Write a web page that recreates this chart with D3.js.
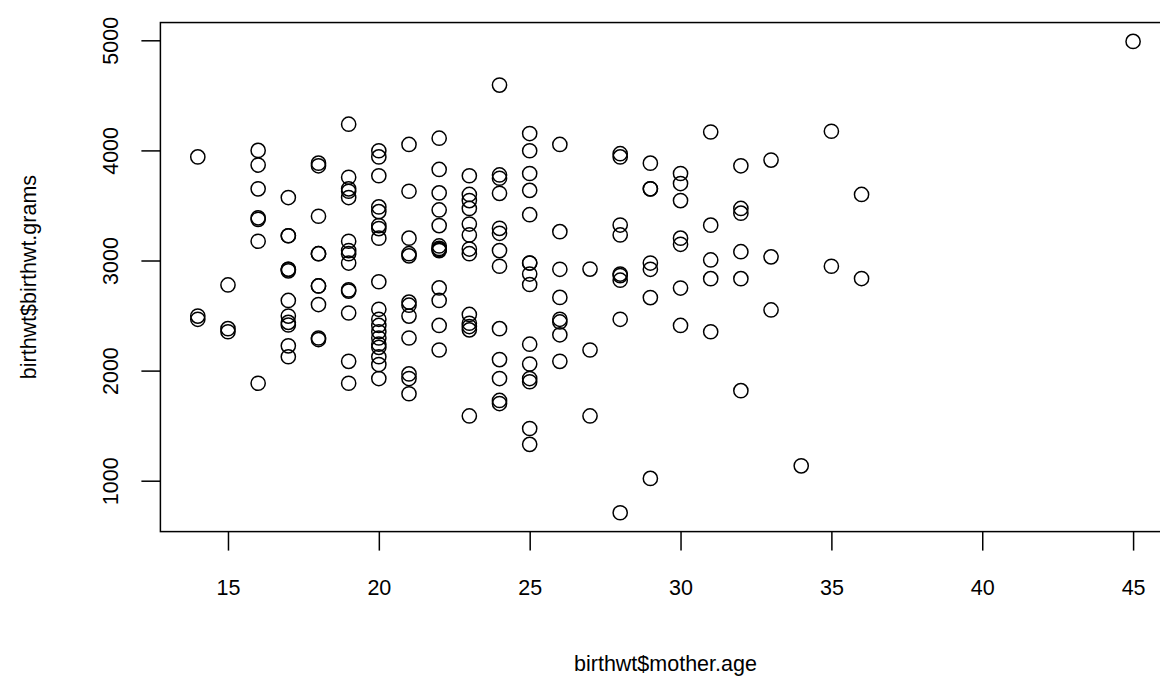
<!DOCTYPE html>
<html>
<head>
<meta charset="utf-8">
<script src="https://cdn.jsdelivr.net/npm/d3@7"></script>
<style>
  html, body { margin: 0; padding: 0; background: #ffffff; }
  svg { display: block; }
  text { font-family: "Liberation Sans", Arial, Helvetica, sans-serif; fill: #000; }
</style>
</head>
<body>
<div id="chart"></div>
<script>
// ---- data ----
const motherAge = [
  14,14,14,
  15,15,15,
  16,16,16,16,16,16,16,
  17,17,17,17,17,17,17,17,17,17,17,17,
  18,18,18,18,18,18,18,18,18,18,
  19,19,19,19,19,19,19,19,19,19,19,19,19,19,
  20,20,20,20,20,20,20,20,20,20,20,20,20,20,20,20,20,20,20,
  21,21,21,21,21,21,21,21,21,21,21,21,
  22,22,22,22,22,22,22,22,22,22,22,22,22,
  23,23,23,23,23,23,23,23,23,23,23,23,23,
  24,24,24,24,24,24,24,24,24,24,24,24,24,
  25,25,25,25,25,25,25,25,25,25,25,25,25,25,25,
  26,26,26,26,26,26,26,26,
  27,27,27,
  28,28,28,28,28,28,28,28,28,
  29,29,29,29,29,29,29,
  30,30,30,30,30,30,30,
  31,31,31,31,31,
  32,32,32,32,32,32,
  33,33,33,
  34,
  35,35,
  36,36,
  45
];
const birthGrams = [
  3941,2495,2466,
  2778,2381,2353,
  4000,3867,3651,3374,3388,3175,1885,
  3572,3225,3225,2906,2920,2920,2637,2495,2438,2414,2225,2126,
  3884,3860,3402,3062,3062,2769,2769,2600,2296,2282,
  4238,3756,3651,3629,3572,3175,3090,3062,2977,2733,2722,2523,2084,1885,
  3997,3941,3770,3487,3444,3317,3290,3203,2807,2557,2466,2410,2353,2296,2240,2211,2126,2055,1928,
  4054,3629,3203,3062,3042,2622,2594,2495,2296,1970,1928,1790,
  4111,3827,3614,3459,3317,3132,3110,3100,3090,2751,2637,2410,2187,
  3770,3600,3544,3473,3331,3232,3104,3062,2510,2430,2400,2370,1588,
  4593,3777,3747,3610,3292,3247,3090,2948,2381,2100,1928,1729,1701,
  4153,3997,3790,3637,3416,2977,2977,2877,2782,2240,2060,1928,1899,1474,1330,
  4054,3262,2920,2665,2466,2442,2325,2084,
  2922,2187,1588,
  3970,3941,3322,3232,2877,2863,2821,2466,709,
  3884,3651,3651,2977,2920,2663,1021,
  3790,3699,3544,3203,3147,2750,2410,
  4167,3321,3005,2835,2353,
  3860,3473,3430,3080,2835,1818,
  3912,3033,2551,
  1135,
  4174,2948,
  3600,2836,
  4990
];
const xTicks = [15, 20, 25, 30, 35, 40, 45];
const yTicks = [1000, 2000, 3000, 4000, 5000];
const xTitle = "birthwt$mother.age";
const yTitle = "birthwt$birthwt.grams";

// ---- layout ----
const W = 1160, H = 690;
const plotLeft = 160.4, plotRight = 1170.5, plotTop = 22.55, plotBottom = 531.6;
const fontSize = 21.5;
const lw = 1.5;

// R-style 4% extended ranges
function padExtent(ext) {
  const d = (ext[1] - ext[0]) * 0.04;
  return [ext[0] - d, ext[1] + d];
}
const x = d3.scaleLinear().domain(padExtent(d3.extent(motherAge))).range([plotLeft, plotRight]);
const y = d3.scaleLinear().domain(padExtent(d3.extent(birthGrams))).range([plotBottom, plotTop]);

const svg = d3.select("#chart").append("svg")
  .attr("width", W).attr("height", H)
  .attr("viewBox", `0 0 ${W} ${H}`);

svg.append("rect").attr("width", W).attr("height", H).attr("fill", "#fff");

// points
svg.append("g").selectAll("circle")
  .data(motherAge.map((a, i) => ({ age: a, grams: birthGrams[i] })))
  .join("circle")
  .attr("cx", d => x(d.age))
  .attr("cy", d => y(d.grams))
  .attr("r", 7.1)
  .attr("fill", "none")
  .attr("stroke", "#000")
  .attr("stroke-width", lw);

// x axis
const xAxis = svg.append("g")
  .attr("transform", `translate(0,${plotBottom})`)
  .call(d3.axisBottom(x).tickValues(xTicks).tickSize(19).tickPadding(29).tickFormat(d3.format("d")));
xAxis.select(".domain").remove();
xAxis.selectAll(".tick line").attr("stroke", "#000").attr("stroke-width", lw);
xAxis.selectAll(".tick text")
  .attr("font-size", fontSize)
  .attr("font-family", '"Liberation Sans", Arial, Helvetica, sans-serif')
  .attr("fill", "#000");

// y axis
const yAxis = svg.append("g")
  .attr("transform", `translate(${plotLeft},0)`)
  .call(d3.axisLeft(y).tickValues(yTicks).tickSize(19).tickFormat(d3.format("d")));
yAxis.select(".domain").remove();
yAxis.selectAll(".tick line").attr("stroke", "#000").attr("stroke-width", lw);
yAxis.selectAll(".tick text")
  .attr("x", null).attr("dy", null)
  .attr("transform", `translate(${118 - plotLeft},0) rotate(-90)`)
  .attr("text-anchor", "middle")
  .attr("font-size", fontSize)
  .attr("font-family", '"Liberation Sans", Arial, Helvetica, sans-serif')
  .attr("fill", "#000");

// box
svg.append("rect")
  .attr("x", plotLeft).attr("y", plotTop)
  .attr("width", plotRight - plotLeft).attr("height", plotBottom - plotTop)
  .attr("fill", "none").attr("stroke", "#000").attr("stroke-width", lw);

// titles
svg.append("text")
  .attr("x", (plotLeft + plotRight) / 2).attr("y", 671)
  .attr("text-anchor", "middle").attr("font-size", fontSize)
  .text(xTitle);

svg.append("text")
  .attr("transform", `translate(36,${(plotTop + plotBottom) / 2}) rotate(-90)`)
  .attr("text-anchor", "middle").attr("font-size", fontSize)
  .text(yTitle);
</script>
</body>
</html>
